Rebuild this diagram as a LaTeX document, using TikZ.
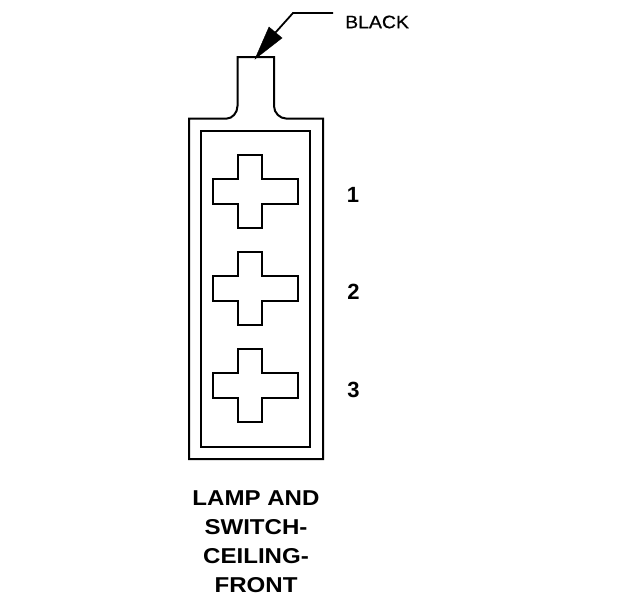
\documentclass[tikz,border=0pt]{standalone}
\usepackage{fontspec}
\setmainfont{Liberation Sans}
\newfontfamily\widefont[FakeStretch=1.12]{Liberation Sans}
\newfontfamily\heavyfont[FakeBold=0.6,FakeStretch=1.08]{Liberation Sans}
\tikzset{
  outline/.style={draw=black,line width=2pt,line join=miter},
  leader/.style={draw=black,line width=1.8pt},
  wirehead/.style={fill=black,draw=black,line width=0.4pt},
  numlabel/.style={font=\fontsize{22}{22}\selectfont\bfseries,inner sep=0pt},
  wirelabel/.style={font=\heavyfont\fontsize{18}{18}\selectfont,inner sep=0pt},
  caption/.style={font=\widefont\fontsize{21.5}{29}\selectfont\bfseries,inner sep=0pt,align=center},
  pics/crossslot/.style={code={
    \draw[outline] (-6.5,-37) -- (18,-37) -- (18,-13) -- (54,-13) -- (54,11.5) -- (18,11.5) -- (18,36) -- (-6.5,36) -- (-6.5,11.5) -- (-31,11.5) -- (-31,-13) -- (-6.5,-13) -- cycle;
  }}
}
\begin{document}
\begin{tikzpicture}[x=1pt,y=-1pt]
\useasboundingbox (0,0) rectangle (624,600);
\fill[white] (0,0) rectangle (624,600);
% housing
\draw[outline] (189,118.5) -- (227,118.5) .. controls (232,118.5) and (237.5,113) .. (237.5,106) -- (237.5,57) -- (274,57) -- (274,106) .. controls (274,113) and (280,118.5) .. (286,118.5) -- (323,118.5) -- (323,459) -- (189,459) -- cycle;
\draw[outline] (201,130.5) rectangle (310,447);
% slots
\pic at (244,192) {crossslot};
\pic at (244,289) {crossslot};
\pic at (244,386) {crossslot};
% leader
\coordinate (tip) at (255,59);
\coordinate (headA) at (269,27);
\coordinate (headB) at (282,38);
\coordinate (bend) at (293,13);
\coordinate (wireend) at (333,13);
\coordinate (headmid) at (275.5,32.5);
\draw[leader] (wireend) -- (bend) -- (headmid);
\filldraw[wirehead] (tip) -- (headA) -- (headB) -- cycle;
% labels
\node[wirelabel,anchor=west] (black) at (345,22) {BLACK};
\node[numlabel] (n1) at (353,194.5) {1};
\node[numlabel] (n2) at (353.5,292) {2};
\node[numlabel] (n3) at (353.5,389.5) {3};
\node[caption] (cap) at (256,542) {LAMP AND\\SWITCH-\\CEILING-\\FRONT};
\end{tikzpicture}
\end{document}
